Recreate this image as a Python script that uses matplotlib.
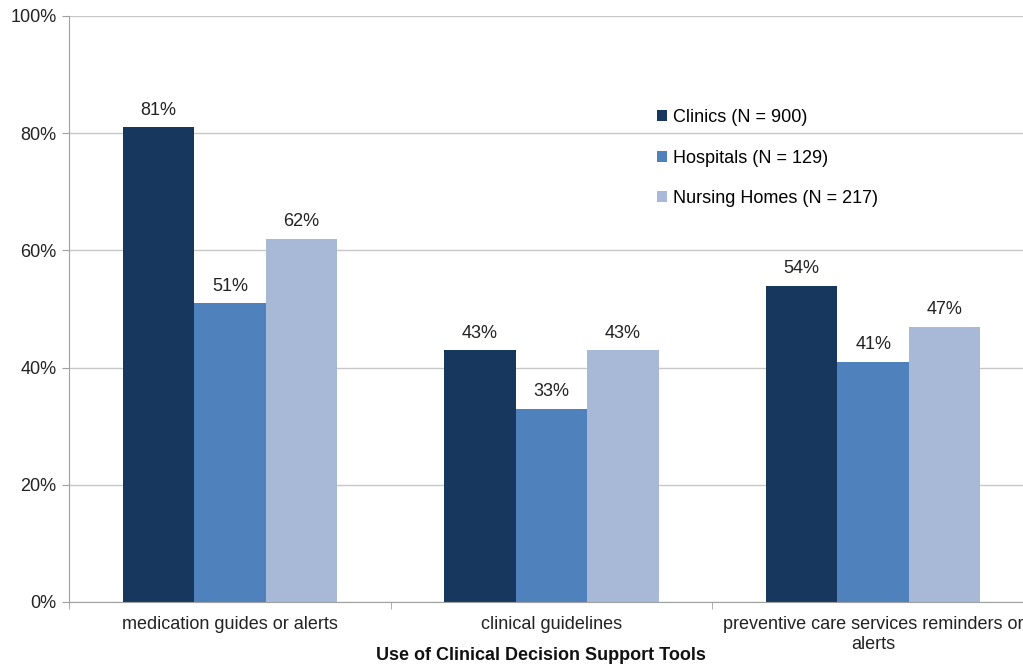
import matplotlib.pyplot as plt
import numpy as np

plt.rcParams['font.family'] = ['Liberation Sans', 'DejaVu Sans']

# Data
categories = ['medication guides or alerts', 'clinical guidelines',
              'preventive care services reminders or\nalerts']
series_names = ['Clinics (N = 900)', 'Hospitals (N = 129)', 'Nursing Homes (N = 217)']
clinics = [81, 43, 54]
hospitals = [51, 33, 41]
nursing_homes = [62, 43, 47]
colors = ['#17375E', '#4F81BD', '#A8B9D8']

fig = plt.figure(figsize=(10.23, 6.64), dpi=100)
ax = fig.add_axes([69 / 1023, 62 / 664, 965 / 1023, 586 / 664])

x = np.arange(len(categories))
width = 0.222
for i, (vals, name, c) in enumerate(zip([clinics, hospitals, nursing_homes], series_names, colors)):
    bars = ax.bar(x + (i - 1) * width, vals, width, color=c, label=name, zorder=2)
    for b, v in zip(bars, vals):
        ax.annotate(f'{v}%', (b.get_x() + b.get_width() / 2, v), xytext=(0, 6),
                    textcoords='offset points', ha='center', va='bottom',
                    fontsize=13, color='#222222')

ax.set_xlim(-0.5, len(categories) - 0.5)
ax.set_ylim(0, 100)
ax.set_yticks(range(0, 101, 20))
ax.set_yticklabels([f'{v}%' for v in range(0, 101, 20)], fontsize=13, color='#222222')
ax.yaxis.grid(True, color='#C8C8C8', linewidth=1, zorder=0)
ax.set_axisbelow(True)

ax.set_xticks(x)
ax.set_xticklabels(categories, fontsize=13, color='#222222', linespacing=1.25)
ax.tick_params(axis='x', length=0, pad=10)
ax.set_xticks(np.arange(len(categories) + 1) - 0.5, minor=True)
ax.tick_params(axis='x', which='minor', length=5, color='#A0A0A0')
ax.tick_params(axis='y', length=5, color='#A0A0A0', pad=4)

for s in ['top', 'right']:
    ax.spines[s].set_visible(False)
ax.spines['left'].set_color('#A0A0A0')
ax.spines['bottom'].set_color('#A0A0A0')

ax.set_xlabel('Use of Clinical Decision Support Tools', fontsize=13, fontweight='bold',
              color='#111111')
ax.xaxis.set_label_coords((541 - 69) / 965, -53 / 586)
ax.xaxis.label.set_va('center')

ax.legend(loc='upper left', bbox_to_anchor=(641 / 1023, 1 - 93 / 664),
          bbox_transform=fig.transFigure, frameon=False, fontsize=13,
          handlelength=0.55, handleheight=0.55, handletextpad=0.3, labelspacing=1.3)

plt.savefig('out.png', dpi=100)
